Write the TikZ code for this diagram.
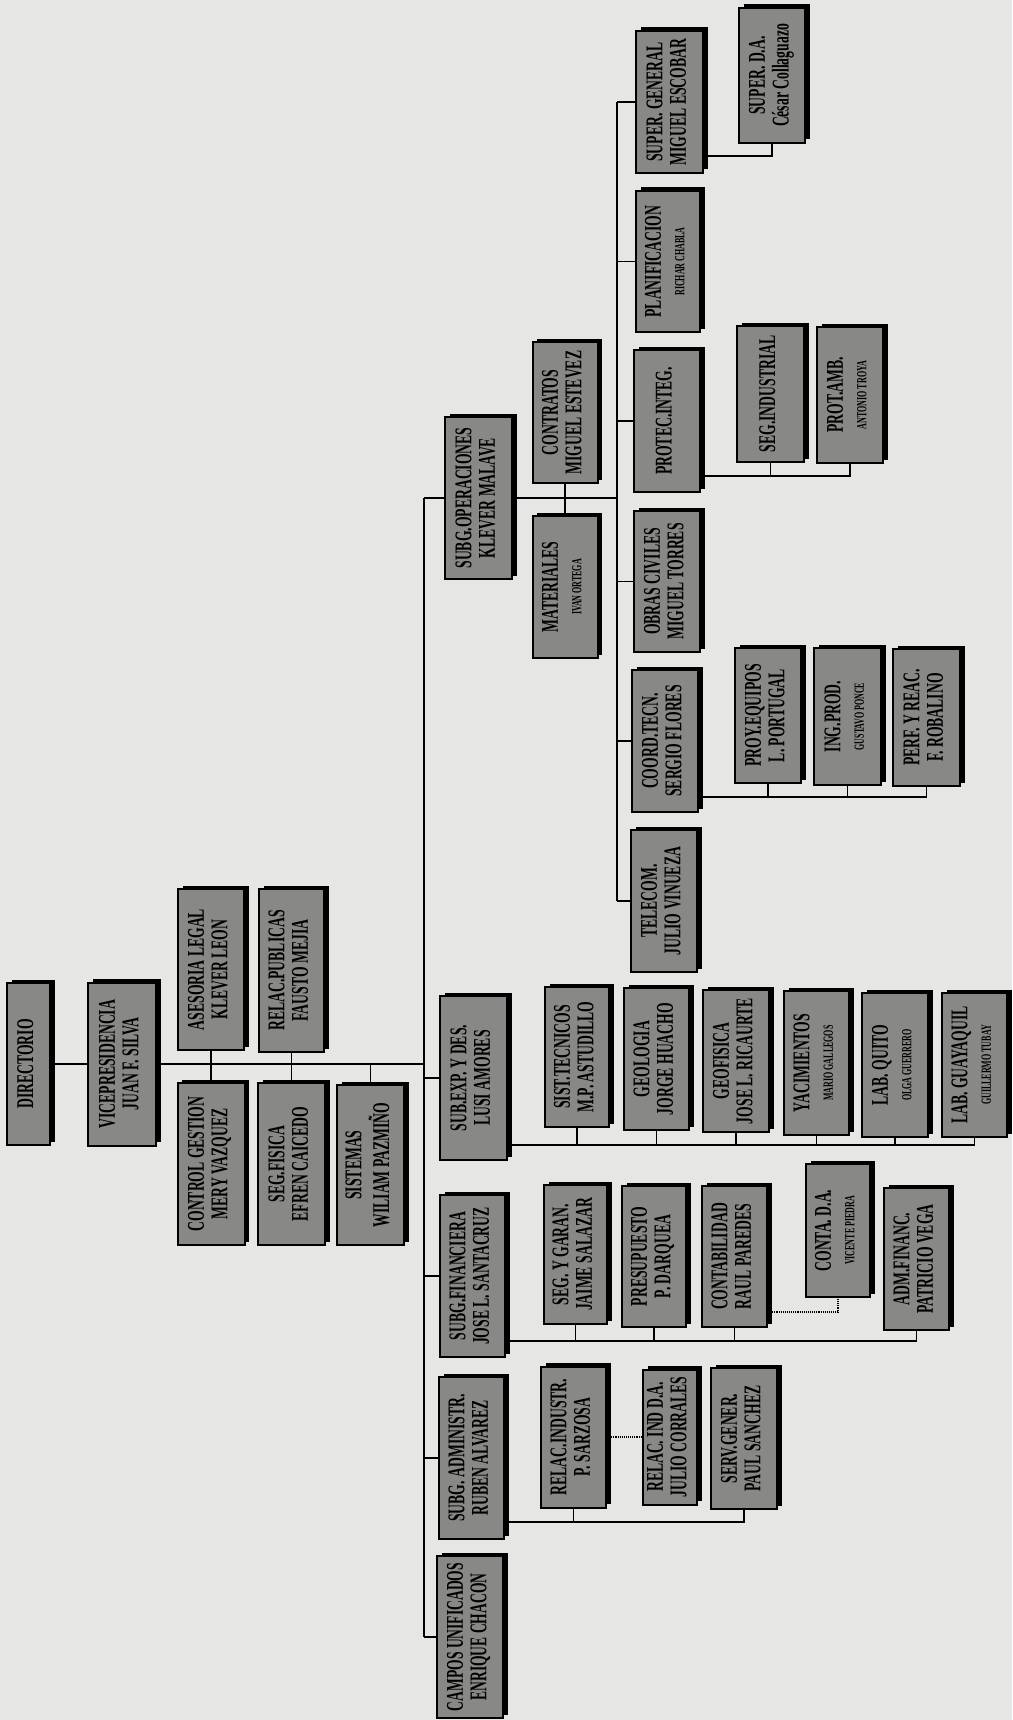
\documentclass[tikz,border=0pt]{standalone}
\usepackage{fontspec}
\setmainfont{Liberation Serif}
\usetikzlibrary{shadows}
\definecolor{bgc}{RGB}{230,230,228}
\definecolor{boxc}{RGB}{136,136,134}
\newsavebox\lblbox
\newcommand\sm{\fontsize{14}{14}\selectfont}
\newcommand\lbl[2]{%
  \sbox\lblbox{\fontsize{24}{23.5}\selectfont\bfseries\begin{tabular}{@{}c@{}}#2\end{tabular}}%
  \edef\lblw{\the\wd\lblbox}%
  \pgfmathsetmacro\lblsc{min(0.57,(#1-14)/\lblw)}%
  \rotatebox{90}{\scalebox{\lblsc}[1]{\usebox\lblbox}}}
\newcommand\bx[6]{\node[orgbox,minimum width=#4pt,minimum height=#5pt] (#1) at (#2,#3) {\lbl{#5}{#6}};}
\tikzset{
  orgbox/.style={draw=black, line width=2pt, fill=boxc, inner sep=0pt,
    drop shadow={shadow xshift=4.5pt, shadow yshift=3.5pt, fill=black, opacity=1}},
  conn/.style={line width=1.1pt, draw=black},
  dconn/.style={line width=1.1pt, draw=black, densely dotted}
}
\begin{document}
\begin{tikzpicture}[x=1pt,y=-1pt]
\fill[bgc] (0,0) rectangle (1012,1720);
\useasboundingbox (0,0) rectangle (1012,1720);
% top management and staff
\bx{dir}{28.5}{1064}{43}{162}{DIRECTORIO}
\bx{vp}{122}{1064}{68}{163}{VICEPRESIDENCIA\\JUAN F. SILVA}
\bx{ase}{211}{969.5}{66}{161}{ASESORIA LEGAL\\KLEVER LEON}
\bx{rp}{291.5}{970.5}{65}{163}{RELAC.PUBLICAS\\FAUSTO MEJIA}
\bx{cg}{211}{1164}{67}{162}{CONTROL GESTION\\MERY VAZQUEZ}
\bx{sf}{291.5}{1164}{67}{162}{SEG.FISICA\\EFREN CAICEDO}
\bx{sis}{370.5}{1165}{67}{160}{SISTEMAS\\WILIAM PAZMIÑO}
% operations
\bx{so}{478.5}{498}{67}{162}{SUBG.OPERACIONES\\KLEVER MALAVE}
\bx{con}{565}{412.5}{65}{141}{CONTRATOS\\MIGUEL ESTEVEZ}
\bx{mat}{565}{587}{65}{142}{MATERIALES\\\sm IVAN ORTEGA}
\bx{sg}{669.5}{102}{67}{142}{SUPER. GENERAL\\MIGUEL ESCOBAR}
\bx{sda}{772}{75.5}{66}{135}{SUPER. D.A.\\César Collaguazo}
\bx{pl}{668}{261.5}{64}{141}{PLANIFICACION\\\sm RICHAR CHABLA}
\bx{pi}{667}{421}{66}{142}{PROTEC.INTEG.}
\bx{oc}{667}{581.5}{66}{141}{OBRAS CIVILES\\MIGUEL TORRES}
\bx{ct}{665}{741}{66}{142}{COORD.TECN.\\SERGIO FLORES}
\bx{tel}{664}{901}{66}{142}{TELECOM.\\JULIO VINUEZA}
\bx{si}{770.5}{394}{67}{136}{SEG.INDUSTRIAL}
\bx{pa}{850}{395}{66}{136}{PROT.AMB.\\\sm ANTONIO TROYA}
\bx{pe}{768}{715.5}{66}{135}{PROY.EQUIPOS\\L. PORTUGAL}
\bx{ip}{847.5}{716.5}{67}{137}{ING.PROD.\\\sm GUSTAVO PONCE}
\bx{pr}{926.5}{717.5}{67}{137}{PERF. Y REAC.\\F. ROBALINO}
% exploration
\bx{se}{473.5}{1078}{67}{164}{SUB.EXP. Y DES.\\LUSI AMORES}
\bx{st}{577}{1057}{64}{140}{SIST.TECNICOS\\M.P. ASTUDILLO}
\bx{geo}{656.5}{1059}{65}{142}{GEOLOGIA\\JORGE HUACHO}
\bx{gf}{736}{1061}{66}{142}{GEOFISICA\\JOSE L. RICAURTE}
\bx{yac}{816.5}{1063}{65}{144}{YACIMIENTOS\\\sm MARIO GALLEGOS}
\bx{lq}{895}{1065}{66}{144}{LAB. QUITO\\\sm OLGA GUERRERO}
\bx{lg}{974.5}{1065}{65}{144}{LAB. GUAYAQUIL\\\sm GUILLERMO TUBAY}
% finance
\bx{sfin}{472.5}{1276}{65}{162}{SUBG.FINANCIERA\\JOSE L. SANTACRUZ}
\bx{sgar}{575.5}{1254.5}{63}{139}{SEG. Y GARAN.\\JAIME SALAZAR}
\bx{pres}{654}{1256.5}{64}{141}{PRESUPUESTO\\P. DARQUEA}
\bx{cont}{734.5}{1256.5}{65}{141}{CONTABILIDAD\\RAUL PAREDES}
\bx{cda}{838}{1230.5}{64}{133}{CONTA. D.A.\\\sm VICENTE PIEDRA}
\bx{adm}{916.5}{1259}{65}{142}{ADM.FINANC.\\PATRICIO VEGA}
% administration
\bx{sad}{471.5}{1458}{65}{162}{SUBG. ADMINISTR.\\RUBEN ALVAREZ}
\bx{ri}{573.5}{1437}{65}{141}{RELAC.INDUSTR.\\P. SARZOSA}
\bx{rid}{670}{1437}{54}{135}{RELAC. IND D.A.\\JULIO CORRALES}
\bx{sv}{744}{1438.5}{66}{141}{SERV.GENER.\\PAUL SANCHEZ}
\bx{cu}{470}{1637}{66}{162}{CAMPOS UNIFICADOS\\ENRIQUE CHACON}
% trunk
\coordinate (tTop) at (424,498);
\coordinate (tBot) at (424,1637);
\draw[conn] (tTop) -- (tBot);
\draw[conn] (dir.east) -- (vp.west);
\draw[conn] (vp.east) -- (vp.east -| tTop);
\draw[conn] (ase.south) -- (cg.north);
\draw[conn] (rp.south) -- (sf.north);
\draw[conn] (sis.north) -- (sis.north |- vp.east);
\draw[conn] (tTop) -- (so.west);
\draw[conn] (se.west -| tTop) -- (se.west);
\draw[conn] (sfin.west -| tTop) -- (sfin.west);
\draw[conn] (sad.west -| tTop) -- (sad.west);
\draw[conn] (tBot) -- (cu.west);
% operations branch
\coordinate (oTop) at (617,102);
\coordinate (oBot) at (617,901);
\draw[conn] (oTop) -- (oBot);
\draw[conn] (so.east) -- (so.east -| oTop);
\draw[conn] (con.south) -- (mat.north);
\foreach \n in {sg,pl,pi,oc,ct,tel} \draw[conn] (\n.west) -- (\n.west -| oTop);
\draw[conn] ([yshift=-54pt]sg.east) -| (sda.south);
\coordinate (piBus) at ([yshift=-55pt]pi.east);
\draw[conn] (piBus) -| (pa.south);
\draw[conn] (si.south) -- (si.south |- piBus);
\coordinate (ctBus) at ([yshift=-56pt]ct.east);
\draw[conn] (ctBus) -| (pr.south);
\foreach \n in {pe,ip} \draw[conn] (\n.south) -- (\n.south |- ctBus);
% exploration branch
\coordinate (seBus) at ([yshift=-67pt]se.east);
\draw[conn] (seBus) -| (lg.south);
\foreach \n in {st,geo,gf,yac,lq} \draw[conn] (\n.south) -- (\n.south |- seBus);
% finance branch
\coordinate (sfBus) at ([yshift=-65pt]sfin.east);
\draw[conn] (sfBus) -| (adm.south);
\foreach \n in {sgar,pres,cont} \draw[conn] (\n.south) -- (\n.south |- sfBus);
\draw[dconn] ([yshift=-55.5pt]cont.east) -| (cda.south);
% administration branch
\coordinate (saBus) at ([yshift=-64pt]sad.east);
\draw[conn] (saBus) -| (sv.south);
\draw[conn] (ri.south) -- (ri.south |- saBus);
\draw[dconn] (ri.east) -- (rid.west);
\end{tikzpicture}
\end{document}
